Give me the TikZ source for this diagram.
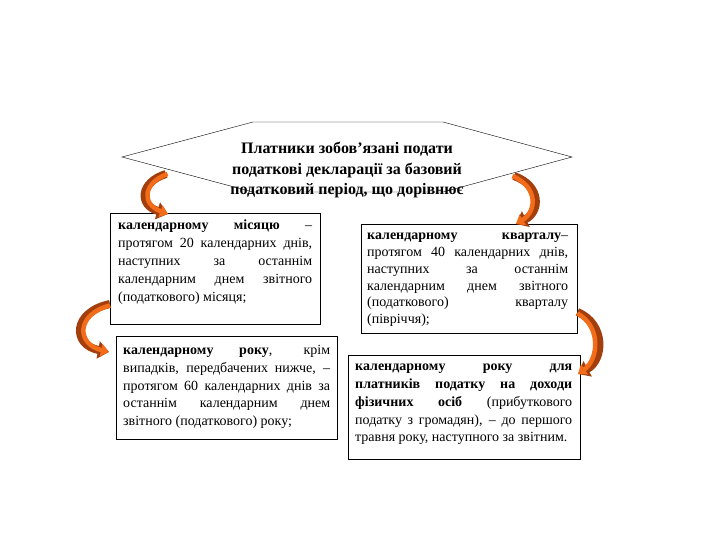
\documentclass[tikz,border=0pt]{standalone}
\usepackage{fontspec}
\setmainfont{Liberation Serif}
\usetikzlibrary{arrows.meta}
\definecolor{arroworange}{HTML}{F26C1A}
\definecolor{arrowbrown}{HTML}{A33F0C}
\tikzset{
  heading/.style={align=center, inner sep=0pt, font=\fontsize{16}{20.5}\selectfont\bfseries},
  panel/.style={draw, thin, anchor=north west, inner sep=0pt},
  paneltext/.style={anchor=north west, inner sep=0pt, align=justify, font=\fontsize{14}{17.8}\selectfont},
  bendback/.style={draw=arrowbrown, line width=8pt, -{Triangle[width=17pt,length=11pt]}},
  bendfront/.style={draw=arroworange, line width=4.5pt, -{Triangle[width=12pt,length=8pt]}}
}
\begin{document}
\begin{tikzpicture}[x=1pt,y=-1pt]
  \useasboundingbox (0,0) rectangle (720,540);
  % hexagon with the heading
  \coordinate (h1) at (122,157);
  \coordinate (h2) at (253,122);
  \coordinate (h3) at (443,122);
  \coordinate (h4) at (572,157);
  \coordinate (h5) at (443,192);
  \coordinate (h6) at (253,192);
  \draw[thin] (h1) -- (h2) -- (h3) -- (h4) -- (h5) -- (h6) -- cycle;
  \node[heading] (title) at (347,170) {Платники зобов'язані подати\\податкові декларації за базовий\\податковий період, що дорівнює};
  % boxes
  \node[panel, minimum width=210, minimum height=111] (month) at (110,213) {};
  \node[paneltext, text width=194] (monthtext) at (118,220) {{\bfseries календарному місяцю} –\linebreak протягом 20 календарних днів,\linebreak наступних за останнім\linebreak календарним днем звітного\linebreak (податкового) місяця;};
  \node[panel, minimum width=221, minimum height=103] (year) at (116,336) {};
  \node[paneltext, text width=207] (yeartext) at (123,345) {{\bfseries календарному року}, крім\linebreak випадків, передбачених нижче, –\linebreak протягом 60 календарних днів за\linebreak останнім календарним днем\linebreak звітного (податкового) року;};
  \node[panel, minimum width=216, minimum height=109] (quarter) at (361,224) {};
  \node[paneltext, text width=201, font=\fontsize{14}{16.8}\selectfont] (quartertext) at (367,233) {{\bfseries календарному кварталу}–\linebreak протягом 40 календарних днів,\linebreak наступних за останнім\linebreak календарним днем звітного\linebreak (податкового) кварталу\linebreak (півріччя);};
  \node[panel, minimum width=232, minimum height=104] (income) at (348,355) {};
  \node[paneltext, text width=217] (incometext) at (355,364) {{\bfseries календарному року для\linebreak платників податку на доходи\linebreak фізичних осіб} (прибуткового\linebreak податку з громадян), – до першого\linebreak травня року, наступного за звітним.};
  % curved arrows
  \coordinate (a1) at (166,174);
  \coordinate (a2) at (168,214);
  \coordinate (b1) at (514,176);
  \coordinate (b2) at (516,224);
  \coordinate (c1) at (month.west |- 0,304);
  \coordinate (c2) at (109,352);
  \coordinate (d1) at (quarter.east |- 0,312);
  \coordinate (d2) at (578,374);
  \draw[bendback] (a1) .. controls (140,182) and (138,205) .. (a2);
  \draw[bendfront] ([xshift=1.5pt]a1) .. controls (143,183) and (141,204) .. (a2);
  \draw[bendback] (b1) .. controls (542,186) and (540,212) .. (b2);
  \draw[bendfront] ([xshift=-1.5pt]b1) .. controls (538,187) and (537,211) .. (b2);
  \draw[bendback] (c1) .. controls (72,312) and (72,345) .. (c2);
  \draw[bendfront] ([yshift=-1.5pt]c1) .. controls (76,314) and (76,344) .. (c2);
  \draw[bendback] (d1) .. controls (606,324) and (604,360) .. (d2);
  \draw[bendfront] ([yshift=-1.5pt]d1) .. controls (601,326) and (599,359) .. (d2);
\end{tikzpicture}
\end{document}
